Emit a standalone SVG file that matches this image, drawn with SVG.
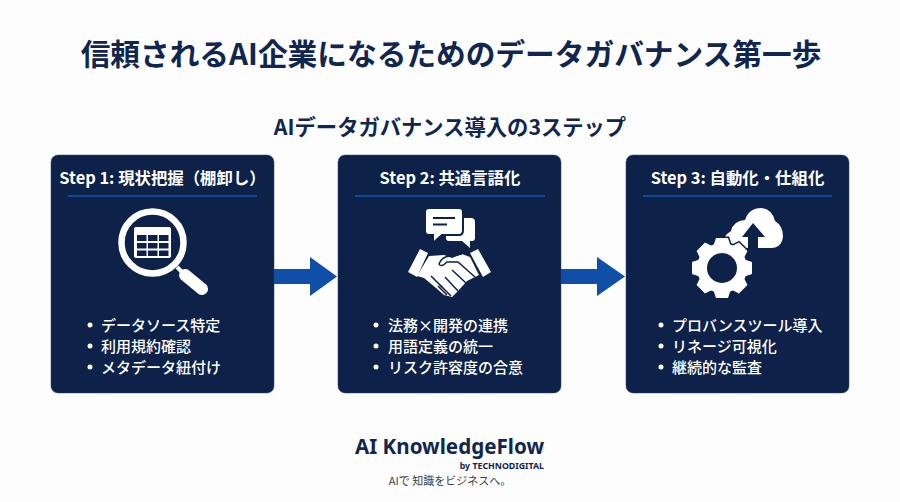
<svg xmlns="http://www.w3.org/2000/svg" width="900" height="502" viewBox="0 0 900 502">
<style>
text{font-family:"Noto Sans CJK JP","Noto Sans",sans-serif}
.card{fill:#0d2149;stroke:#2a4a80;stroke-width:.5}
.rule{stroke:#0f4a9a;stroke-width:2}
.head{fill:#fff;font-size:16.400px;font-weight:700;text-anchor:middle}
.item{fill:#fff;font-size:15px;font-weight:500}
.dot{fill:#fff}
.w{fill:#fff}
.n{fill:#0d2149}
.arrow{fill:#0f4fa8}
</style>
<defs>
<g id="gear">
<path id="tooth" d="M713 247L716 238H728L731 247Z"/>
<use href="#tooth" transform="rotate(45 722 268)"/>
<use href="#tooth" transform="rotate(90 722 268)"/>
<use href="#tooth" transform="rotate(135 722 268)"/>
<use href="#tooth" transform="rotate(180 722 268)"/>
<use href="#tooth" transform="rotate(225 722 268)"/>
<use href="#tooth" transform="rotate(270 722 268)"/>
<use href="#tooth" transform="rotate(315 722 268)"/>
<circle cx="722" cy="268" r="25"/>
</g>
</defs>
<rect width="900" height="502" fill="#fdfdfd"/>
<text id="title" x="451" y="64.500" text-anchor="middle" font-size="29.700" font-weight="700" fill="#10264f">信頼されるAI企業になるためのデータガバナンス第一歩</text>
<text id="subtitle" x="450" y="135" text-anchor="middle" font-size="21.300" font-weight="700" fill="#10264f">AIデータガバナンス導入の3ステップ</text>
<g id="connectors">
<path class="arrow" d="M274 269H310V257L337 276.500 310 296V284H274Z"/>
<path class="arrow" d="M561 269H597V257L625 276.500 597 296V284H561Z"/>
</g>
<g id="step1">
<rect class="card" x="51" y="155" width="223" height="238" rx="7"/>
<text class="head" x="162.500" y="184">Step 1: 現状把握（棚卸し）</text>
<line class="rule" x1="68" y1="196" x2="257" y2="196"/>
<circle cx="152.500" cy="242.500" r="31" fill="none" stroke="#fff" stroke-width="6.500"/>
<path d="M177 267L186 276" stroke="#fff" stroke-width="4"/>
<path d="M185 275L202 289" stroke="#fff" stroke-width="12" stroke-linecap="round"/>
<rect class="w" x="134" y="227" width="37" height="31" rx="2"/>
<g class="n">
<rect x="137" y="235" width="9.500" height="6"/><rect x="148" y="235" width="9.500" height="6"/><rect x="159" y="235" width="9.500" height="6"/>
<rect x="137" y="243" width="9.500" height="5.500"/><rect x="148" y="243" width="9.500" height="5.500"/><rect x="159" y="243" width="9.500" height="5.500"/>
<rect x="137" y="250.500" width="9.500" height="5.500"/><rect x="148" y="250.500" width="9.500" height="5.500"/><rect x="159" y="250.500" width="9.500" height="5.500"/>
</g>
<circle class="dot" cx="90" cy="325" r="2.500"/><circle class="dot" cx="90" cy="346" r="2.500"/><circle class="dot" cx="90" cy="367" r="2.500"/>
<text class="item" x="101" y="331">データソース特定</text>
<text class="item" x="101" y="352">利用規約確認</text>
<text class="item" x="101" y="373">メタデータ紐付け</text>
</g>
<g id="step2">
<rect class="card" x="338" y="155" width="223" height="238" rx="7"/>
<text class="head" x="450" y="184">Step 2: 共通言語化</text>
<line class="rule" x1="355" y1="196" x2="545" y2="196"/>
<path class="w" d="M461 218H471Q475 218 475 222V238Q475 241 472 241H470V248L462 241H449Q446 241 446 238V225Z"/>
<path class="w" stroke="#0d2149" stroke-width="2" d="M429 208H459Q463 208 463 212V230Q463 235 459 235H442L433 243V235H429Q425 235 425 231V212Q425 208 429 208Z"/>
<path d="M433 218H455M433 224.500H447" stroke="#0d2149" stroke-width="2"/>
<path class="w" d="M420 249L428 253 417 277 408 272ZM478 249L470 253 483 277 491 272Z"/>
<path class="w" d="M429 256L444 255 452 258 462 254 470 257 479 275 467 281 458 291 452 297 444 295 436 288 424 278 417 276Z"/>
<path d="M475 277L458 262 447 262Q441 268 439 264 442 256 451 256L462 254M466 283L452 270M458 291L445 277M451 296L440 285" fill="none" stroke="#0d2149" stroke-width="1.500"/>
<path d="M425 281L434 290M431 276L442 287M438 286L447 295" stroke="#0d2149" stroke-width="1.500"/>
<circle class="dot" cx="376" cy="325" r="2.500"/><circle class="dot" cx="376" cy="346" r="2.500"/><circle class="dot" cx="376" cy="367" r="2.500"/>
<text class="item" x="388" y="331">法務×開発の連携</text>
<text class="item" x="388" y="352">用語定義の統一</text>
<text class="item" x="388" y="373">リスク許容度の合意</text>
</g>
<g id="step3">
<rect class="card" x="626" y="155" width="223" height="238" rx="7"/>
<text class="head" x="737.500" y="184">Step 3: 自動化・仕組化</text>
<line class="rule" x1="643" y1="196" x2="832" y2="196"/>
<path class="w" d="M722 248Q722 236 731 231 733 221 745 220 749 208 761 208 772 209 775 221 783 226 783 236 782 248 771 248Z"/>
<path class="n" d="M753 223L765 237H758V262H748V237H742Z"/>
<use href="#gear" class="n" stroke="#0d2149" stroke-width="3"/>
<use href="#gear" class="w"/>
<circle class="n" cx="722" cy="268" r="15"/>
<circle class="dot" cx="661" cy="325" r="2.500"/><circle class="dot" cx="661" cy="346" r="2.500"/><circle class="dot" cx="661" cy="367" r="2.500"/>
<text class="item" x="672" y="331">プロバンスツール導入</text>
<text class="item" x="672" y="352">リネージ可視化</text>
<text class="item" x="672" y="373">継続的な監査</text>
</g>
<g id="footer">
<text x="449.500" y="454" text-anchor="middle" font-size="20.600" font-weight="700" fill="#10264f" style="font-family:'Noto Sans',sans-serif">AI KnowledgeFlow</text>
<text x="544" y="469" text-anchor="end" font-size="8.800" font-weight="700" fill="#10264f" style="font-family:'Noto Sans',sans-serif">by TECHNODIGITAL</text>
<text x="450" y="485" text-anchor="middle" font-size="11" fill="#333d50">AIで 知識をビジネスへ。</text>
</g>
</svg>
